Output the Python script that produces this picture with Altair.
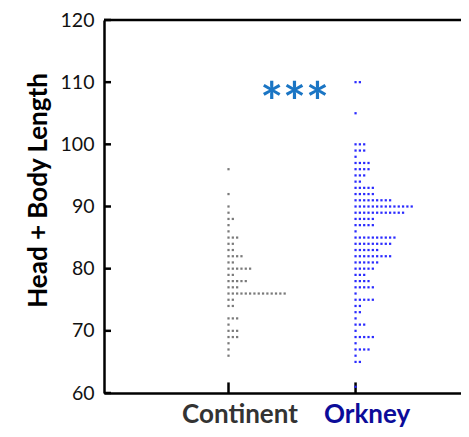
import altair as alt
import pandas as pd

groups = ["Continent", "Orkney"]
continent_values = [96, 92, 90, 89, 88, 87, 86, 85, 84, 83, 82, 81, 80, 79, 78, 77, 76, 75, 74, 72, 71, 70, 69, 68, 67, 66]
continent_counts = [1, 1, 1, 1, 2, 1, 1, 3, 2, 2, 4, 2, 6, 2, 5, 3, 14, 2, 2, 3, 1, 3, 3, 1, 1, 1]
orkney_values = [110, 105, 100, 99, 98, 97, 96, 95, 94, 93, 92, 91, 90, 89, 88, 87, 86, 85, 84, 83, 82, 81, 80, 79, 78, 77, 76, 75, 74, 73, 72, 71, 70, 69, 68, 67, 66, 65, 61]
orkney_counts = [2, 1, 3, 3, 1, 4, 4, 3, 2, 5, 5, 9, 14, 12, 5, 5, 1, 10, 9, 6, 9, 6, 5, 3, 4, 5, 1, 5, 2, 2, 1, 3, 1, 5, 1, 4, 1, 2, 1]
y_ticks = [60, 70, 80, 90, 100, 110, 120]
group_pos = [1, 2]
signif = ["***"]

DOT_STEP = 0.034
rows = []
for gi, name, vals, cnts in [(1, "Continent", continent_values, continent_counts),
                             (2, "Orkney", orkney_values, orkney_counts)]:
    for v, c in zip(vals, cnts):
        for k in range(c):
            rows.append({"group": name, "value": v, "x": gi + k * DOT_STEP})
df = pd.DataFrame(rows)

XMIN, XMAX = 0.02, 2.83
xscale = alt.Scale(domain=[XMIN, XMAX], nice=False, zero=False)
yscale = alt.Scale(domain=[60, 120], nice=False, zero=False)
FONT = "Lato"

x_axis = alt.Axis(
    values=group_pos,
    labelExpr="datum.value == 1 ? 'Continent' : 'Orkney'",
    labelColor={"condition": {"test": "datum.value == 1", "value": "#333333"}, "value": "#0c0c99"},
    labelFont=FONT, labelFontSize=26, labelFontWeight="bold",
    ticks=False, grid=False, domainColor="black", domainWidth=2.5,
    labelPadding=8, labelOffset=11, title=None,
)
y_axis = alt.Axis(
    values=y_ticks, ticks=False, grid=False, domainColor="black", domainWidth=2.5,
    labelFont=FONT, labelFontSize=19.5, labelColor="#111111", labelPadding=10,
    title="Head + Body Length", titleFont=FONT, titleFontSize=26,
    titleFontWeight="bold", titleColor="black", titlePadding=9, titleY=170,
)

dots = alt.Chart(df).mark_square(size=5, opacity=1).encode(
    x=alt.X("x:Q", scale=xscale, axis=x_axis),
    y=alt.Y("value:Q", scale=yscale, axis=y_axis),
    color=alt.Color("group:N", scale=alt.Scale(domain=groups, range=["#7a7a7a", "#2a2aff"]), legend=None),
)

ytick_df = pd.DataFrame({"v": y_ticks})
ytick_rules = alt.Chart(ytick_df).mark_rule(color="black", strokeWidth=2.5).encode(
    y=alt.Y("v:Q", scale=yscale),
    x=alt.datum(XMIN),
    x2=alt.datum(XMIN + 0.055),
)

top_rule = alt.Chart(pd.DataFrame({"v": [120]})).mark_rule(color="black", strokeWidth=2.5).encode(
    y=alt.Y("v:Q", scale=yscale),
    x=alt.datum(XMIN),
    x2=alt.datum(XMAX),
)

xtick_rules = alt.Chart(pd.DataFrame({"g": group_pos})).mark_rule(color="black", strokeWidth=2.5).encode(
    x=alt.X("g:Q", scale=xscale),
    y=alt.datum(60),
    y2=alt.datum(61.7),
)

stars = alt.Chart(pd.DataFrame({"t": signif})).mark_text(
    font=FONT, fontSize=54, fontWeight="bold", color="#1a75c4", baseline="middle", align="center"
).encode(
    x=alt.datum(1.52),
    y=alt.datum(106.3),
    text="t:N",
)

chart = alt.layer(top_rule, ytick_rules, xtick_rules, dots, stars).properties(
    width=357, height=373,
    autosize=alt.AutoSizeParams(type="none"),
    padding={"left": 96, "top": 12, "right": 0, "bottom": 36},
).configure_view(stroke=None)

chart.save("out.html", embed_options={"renderer": "svg", "actions": False})
